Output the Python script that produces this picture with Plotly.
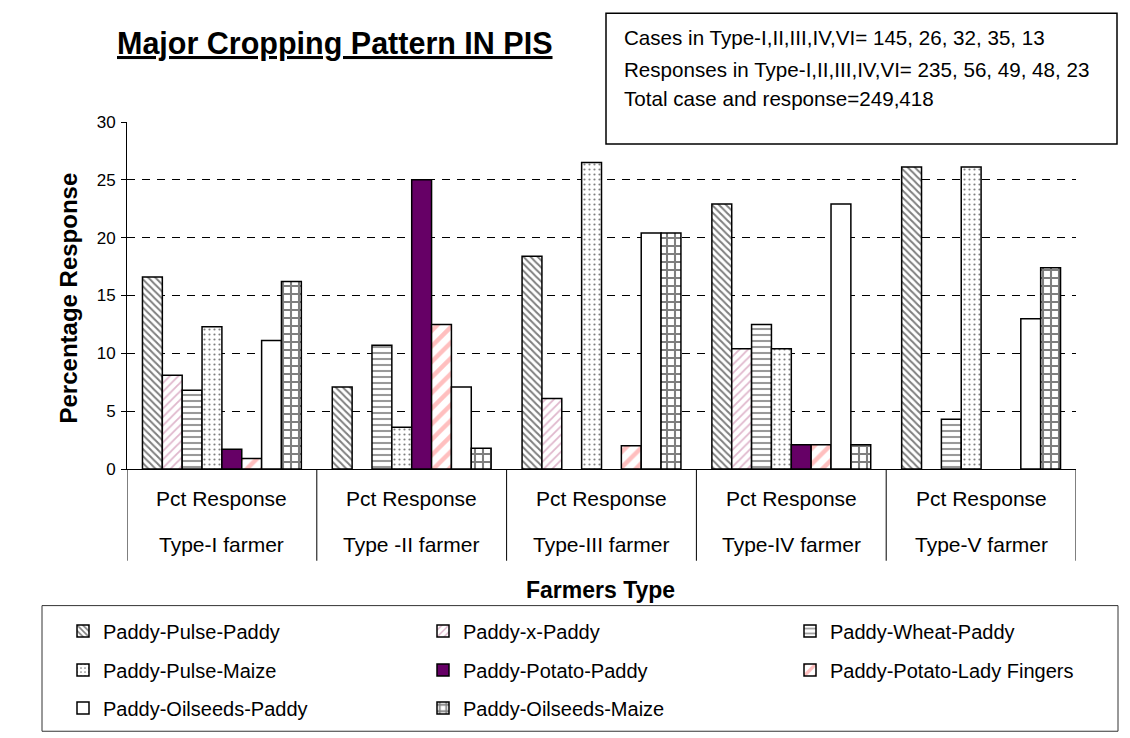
import plotly.graph_objects as go

# ---------------- data ----------------
farmer_types = ["Type-I farmer", "Type -II farmer", "Type-III farmer", "Type-IV farmer", "Type-V farmer"]
inner_label = "Pct Response"

series_names = [
    "Paddy-Pulse-Paddy", "Paddy-x-Paddy", "Paddy-Wheat-Paddy",
    "Paddy-Pulse-Maize", "Paddy-Potato-Paddy", "Paddy-Potato-Lady Fingers",
    "Paddy-Oilseeds-Paddy", "Paddy-Oilseeds-Maize",
]
paddy_pulse_paddy = [16.6, 7.1, 18.4, 22.9, 26.1]
paddy_x_paddy = [8.1, None, 6.1, 10.4, None]
paddy_wheat_paddy = [6.8, 10.7, None, 12.5, 4.3]
paddy_pulse_maize = [12.3, 3.6, 26.5, 10.4, 26.1]
paddy_potato_paddy = [1.7, 25.0, None, 2.1, None]
paddy_potato_lady = [0.9, 12.5, 2.0, 2.1, None]
paddy_oilseeds_paddy = [11.1, 7.1, 20.4, 22.9, 13.0]
paddy_oilseeds_maize = [16.2, 1.8, 20.4, 2.1, 17.4]

y_ticks = [0, 5, 10, 15, 20, 25, 30]
info_lines = [
    "Cases in Type-I,II,III,IV,VI= 145, 26, 32, 35, 13",
    "Responses in Type-I,II,III,IV,VI= 235, 56, 49, 48, 23",
    "Total case and response=249,418",
]

series_values = [paddy_pulse_paddy, paddy_x_paddy, paddy_wheat_paddy, paddy_pulse_maize,
                 paddy_potato_paddy, paddy_potato_lady, paddy_oilseeds_paddy, paddy_oilseeds_maize]

# ---------------- styles ----------------
FONT = "Liberation Sans, Arial, sans-serif"
styles = [
    dict(color="white", pattern=dict(shape="\\", fgcolor="black", bgcolor="white", size=5, solidity=0.4)),
    dict(color="white", pattern=dict(shape="/", fgcolor="#c0709a", bgcolor="white", size=6, solidity=0.3)),
    dict(color="white", pattern=dict(shape="-", fgcolor="#333333", bgcolor="white", size=6, solidity=0.35)),
    dict(color="white", pattern=dict(shape=".", fgcolor="black", bgcolor="white", size=5, solidity=0.15)),
    dict(color="#660066"),
    dict(color="white", pattern=dict(shape="/", fgcolor="#ff8080", bgcolor="white", size=11, solidity=0.4)),
    dict(color="white"),
    dict(color="white", pattern=dict(shape="+", fgcolor="black", bgcolor="white", size=8, solidity=0.45)),
]

# page body has an 8px margin; figure is sized to fit the window
W, H = 1122, 730
ML, MT = 119, 114
PW, PH = 949, 348
MR = W - ML - PW
MB = H - MT - PH
X0, Y0 = 127, 470  # screen pixel of plot-area left / bottom


def px_x(x):
    return (x - X0) / PW


def px_y(y):
    return (Y0 - y) / PH


col_x = [63, 423, 790]
row_y = [631, 670, 708]

fig = go.Figure()
for i, (name, vals, st) in enumerate(zip(series_names, series_values, styles)):
    lg = "legend" if i == 0 else f"legend{i + 1}"
    fig.add_trace(go.Bar(
        name=name,
        x=farmer_types,
        y=vals,
        marker=dict(line=dict(color="black", width=1.5), **st),
        legend=lg,
        showlegend=True,
    ))

legends = {}
for i in range(8):
    r, c = divmod(i, 3)
    key = "legend" if i == 0 else f"legend{i + 1}"
    legends[key] = dict(
        x=px_x(col_x[c]), y=px_y(row_y[r]), xanchor="left", yanchor="middle",
        xref="paper", yref="paper", orientation="v",
        font=dict(family=FONT, size=20, color="black"),
        bgcolor="rgba(0,0,0,0)", borderwidth=0, itemwidth=30,
    )

annotations = [
    dict(text="<b><u>Major Cropping Pattern IN PIS</u></b>", x=px_x(335), y=px_y(43),
         xref="paper", yref="paper", showarrow=False, xanchor="center", yanchor="middle",
         font=dict(family=FONT, size=30.5, color="black")),
    dict(text="<b>Percentage Response</b>", x=px_x(68), y=px_y(299), textangle=-90,
         xref="paper", yref="paper", showarrow=False, xanchor="center", yanchor="middle",
         font=dict(family=FONT, size=24, color="black")),
    dict(text="<b>Farmers Type</b>", x=px_x(600), y=px_y(591),
         xref="paper", yref="paper", showarrow=False, xanchor="center", yanchor="middle",
         font=dict(family=FONT, size=23, color="black")),
]
for txt, yy in zip(info_lines, [37, 69, 98]):
    annotations.append(dict(text=txt, x=px_x(622), y=px_y(yy), xref="paper", yref="paper",
                            showarrow=False, xanchor="left", yanchor="middle",
                            font=dict(family=FONT, size=20.6, color="black")))
# two-level category labels under the axis
for ft in farmer_types:
    annotations.append(dict(text=inner_label, x=ft, xref="x", y=px_y(500), yref="paper",
                            showarrow=False, xanchor="center", yanchor="middle",
                            font=dict(family=FONT, size=21, color="black")))
    annotations.append(dict(text=ft, x=ft, xref="x", y=px_y(546), yref="paper",
                            showarrow=False, xanchor="center", yanchor="middle",
                            font=dict(family=FONT, size=21, color="black")))

shapes = [
    dict(type="rect", xref="paper", yref="paper", x0=px_x(606), x1=px_x(1117), y0=px_y(144), y1=px_y(13),
         line=dict(color="black", width=1.5), fillcolor="white", layer="above"),
    dict(type="rect", xref="paper", yref="paper", x0=px_x(42), x1=px_x(1118), y0=px_y(607), y1=px_y(733),
         line=dict(color="#333333", width=1), fillcolor="rgba(0,0,0,0)", layer="above"),
]
for k in range(len(farmer_types) + 1):
    shapes.append(dict(type="line", xref="x", yref="paper", x0=k - 0.5, x1=k - 0.5,
                       y0=0, y1=px_y(562), line=dict(color="black", width=1)))

fig.update_layout(
    width=W, height=H,
    margin=dict(l=ML, r=MR, t=MT, b=MB),
    paper_bgcolor="white", plot_bgcolor="white",
    barmode="group", bargap=0.163, bargroupgap=0,
    showlegend=True,
    font=dict(family=FONT, color="black"),
    annotations=annotations, shapes=shapes,
    **legends,
)
fig.update_xaxes(
    type="category", showline=True, linecolor="black", linewidth=1,
    showgrid=False, showticklabels=False, ticks="", range=[-0.5, 4.5],
)
fig.update_yaxes(
    range=[0, 30], tickvals=y_ticks, showline=True, linecolor="black", linewidth=1,
    ticks="outside", ticklen=5, tickcolor="black", ticklabelstandoff=2,
    showgrid=True, gridcolor="black", gridwidth=1, griddash="8px,7px",
    zeroline=False, tickfont=dict(family=FONT, size=17, color="black"),
)

fig.write_html("out.html")
